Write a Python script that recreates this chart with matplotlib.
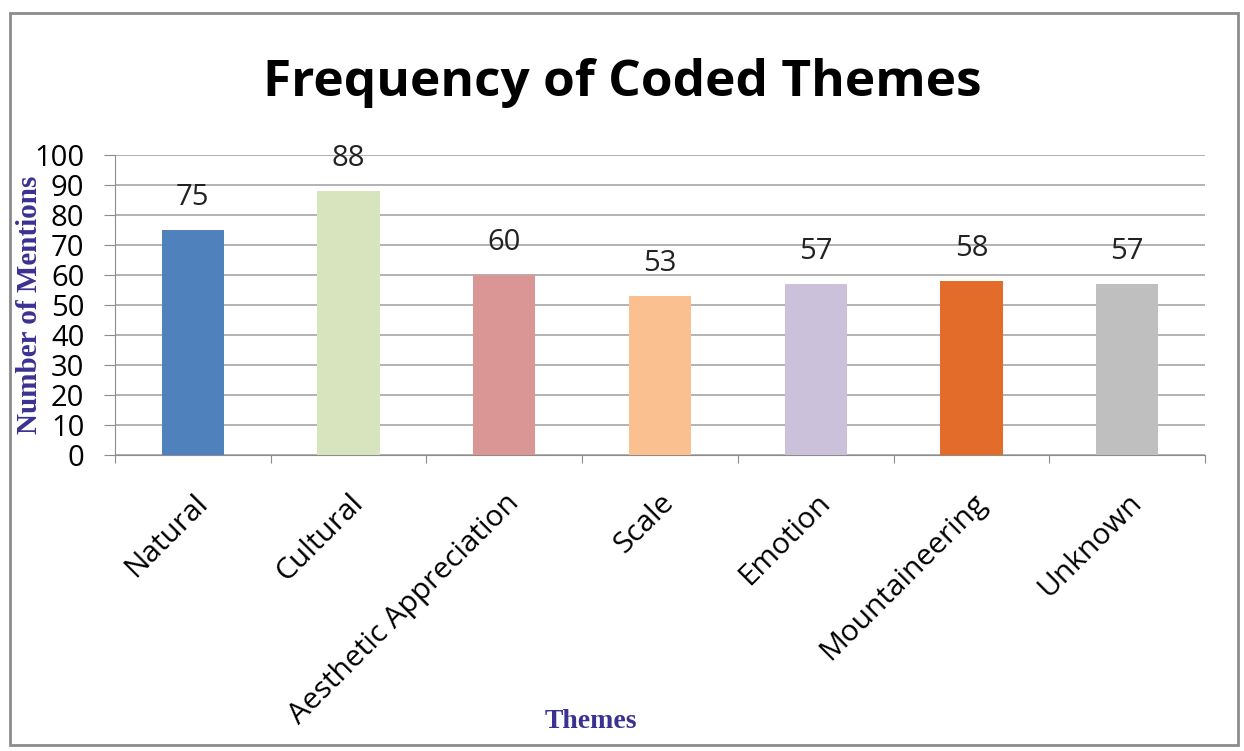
import matplotlib.pyplot as plt
from matplotlib.patches import Rectangle

themes = ['Natural', 'Cultural', 'Aesthetic Appreciation', 'Scale', 'Emotion',
          'Mountaineering', 'Unknown']
mentions = [75, 88, 60, 53, 57, 58, 57]
bar_colors = ['#4F81BD', '#D7E4BD', '#D99694', '#FAC090', '#CCC1DA', '#E46C2A', '#BFBFBF']
y_ticks = list(range(0, 101, 10))

fig = plt.figure(figsize=(12.44, 7.51), dpi=100)
ax = fig.add_axes([0.0924, 0.3941, 0.8762, 0.3995])

x = list(range(len(themes)))
ax.bar(x, mentions, width=0.4, color=bar_colors, zorder=3)
for xi, v in zip(x, mentions):
    ax.text(xi, v + 6, str(v), ha='center', va='bottom', fontsize=21,
            family='Open Sans', color='#222222', zorder=4)

ax.set_xlim(-0.5, len(themes) - 0.5)
ax.set_ylim(0, 100)
ax.set_yticks(y_ticks)
ax.set_yticklabels([str(t) for t in y_ticks], family='Open Sans', fontsize=21)
ax.yaxis.grid(True, color='#A6A6A6', linewidth=1.2, zorder=0)
ax.set_axisbelow(True)

# category boundary ticks on x, labels centred under bars
ax.set_xticks([i - 0.5 for i in range(len(themes) + 1)])
ax.set_xticklabels([])
ax.set_xticks(x, minor=True)
ax.set_xticklabels(themes, minor=True, rotation=45, ha='right', rotation_mode='anchor',
                   family='Open Sans', fontsize=21.5)
ax.tick_params(axis='x', which='minor', length=0, pad=24)
ax.tick_params(axis='x', which='major', length=6, color='#8C8C8C', direction='out')
ax.tick_params(axis='y', length=8, color='#8C8C8C', direction='out', pad=14)

for s in ['top', 'right']:
    ax.spines[s].set_visible(False)
ax.spines['left'].set_color('#8C8C8C')
ax.spines['bottom'].set_color('#8C8C8C')

fig.text(0.5, 0.889, 'Frequency of Coded Themes', ha='center', va='center',
         fontsize=37, fontweight='bold', family='Open Sans')
fig.text(0.024, 0.594, 'Number of Mentions', rotation=90, ha='center', va='center',
         fontsize=21, fontweight='bold', family='Liberation Serif', color='#3B3191')
fig.text(0.475, 0.039, 'Themes', ha='center', va='center',
         fontsize=20, fontweight='bold', family='Liberation Serif', color='#3B3191')

fig.patches.append(Rectangle((0.008, 0.008), 0.987, 0.975, transform=fig.transFigure,
                             fill=False, edgecolor='#8C8C8C', linewidth=2))

fig.savefig('out.png', dpi=100)
